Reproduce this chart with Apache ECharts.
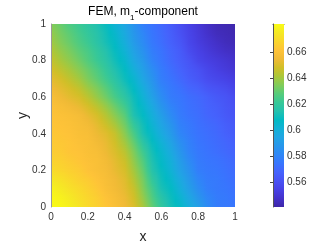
<!DOCTYPE html>
<html>
<head>
<meta charset="utf-8">
<script src="https://cdn.jsdelivr.net/npm/echarts@6/dist/echarts.min.js"></script>
<style>html,body{margin:0;padding:0;background:#fff}#c{width:327px;height:245px}</style>
</head>
<body>
<div id="c"></div>
<script>
// grid node coordinates (data x and y)
const xValues = [0, 0.05, 0.1, 0.15, 0.2, 0.25, 0.3, 0.35, 0.4, 0.45, 0.5, 0.55, 0.6, 0.65, 0.7, 0.75, 0.8, 0.85, 0.9, 0.95, 1];
const yValues = [0, 0.05, 0.1, 0.15, 0.2, 0.25, 0.3, 0.35, 0.4, 0.45, 0.5, 0.55, 0.6, 0.65, 0.7, 0.75, 0.8, 0.85, 0.9, 0.95, 1];

// m1 values at the nodes, one row per y (left to right along x)
const m1_y000 = [0.681,0.680,0.677,0.673,0.669,0.666,0.662,0.659,0.655,0.650,0.641,0.630,0.620,0.612,0.607,0.599,0.592,0.583,0.577,0.576,0.575];
const m1_y005 = [0.680,0.678,0.675,0.671,0.668,0.665,0.661,0.658,0.654,0.648,0.638,0.627,0.617,0.610,0.604,0.596,0.588,0.581,0.577,0.576,0.574];
const m1_y010 = [0.678,0.675,0.672,0.669,0.666,0.663,0.659,0.656,0.652,0.646,0.635,0.624,0.613,0.608,0.600,0.592,0.584,0.578,0.576,0.575,0.573];
const m1_y015 = [0.674,0.672,0.669,0.666,0.664,0.661,0.658,0.655,0.651,0.643,0.633,0.620,0.611,0.605,0.597,0.589,0.581,0.577,0.576,0.574,0.572];
const m1_y020 = [0.670,0.668,0.666,0.664,0.661,0.659,0.657,0.653,0.649,0.640,0.630,0.616,0.609,0.602,0.593,0.586,0.578,0.576,0.575,0.573,0.571];
const m1_y025 = [0.667,0.666,0.664,0.662,0.660,0.659,0.656,0.652,0.647,0.637,0.627,0.614,0.607,0.600,0.591,0.583,0.577,0.575,0.574,0.572,0.570];
const m1_y030 = [0.665,0.664,0.662,0.661,0.659,0.658,0.654,0.650,0.644,0.634,0.623,0.612,0.605,0.597,0.588,0.580,0.576,0.574,0.572,0.570,0.568];
const m1_y035 = [0.664,0.663,0.662,0.660,0.659,0.656,0.653,0.648,0.640,0.630,0.618,0.609,0.602,0.594,0.585,0.579,0.575,0.573,0.571,0.569,0.567];
const m1_y040 = [0.663,0.662,0.661,0.659,0.658,0.654,0.651,0.646,0.636,0.625,0.613,0.606,0.598,0.590,0.581,0.577,0.574,0.572,0.570,0.567,0.565];
const m1_y045 = [0.662,0.661,0.660,0.658,0.656,0.652,0.647,0.641,0.632,0.620,0.611,0.603,0.595,0.587,0.579,0.576,0.573,0.571,0.569,0.566,0.564];
const m1_y050 = [0.661,0.660,0.659,0.657,0.653,0.649,0.643,0.636,0.628,0.614,0.608,0.600,0.592,0.583,0.577,0.574,0.572,0.569,0.567,0.564,0.562];
const m1_y055 = [0.660,0.658,0.656,0.653,0.649,0.644,0.638,0.631,0.623,0.612,0.605,0.597,0.588,0.580,0.576,0.573,0.571,0.568,0.566,0.563,0.561];
const m1_y060 = [0.658,0.655,0.652,0.649,0.644,0.638,0.632,0.625,0.618,0.610,0.602,0.593,0.584,0.577,0.575,0.572,0.570,0.567,0.564,0.562,0.559];
const m1_y065 = [0.655,0.652,0.649,0.645,0.639,0.634,0.628,0.621,0.614,0.607,0.599,0.590,0.581,0.576,0.573,0.569,0.567,0.563,0.561,0.559,0.556];
const m1_y070 = [0.652,0.649,0.645,0.640,0.634,0.629,0.623,0.617,0.610,0.604,0.595,0.587,0.578,0.574,0.570,0.566,0.563,0.559,0.557,0.555,0.553];
const m1_y075 = [0.649,0.645,0.641,0.636,0.631,0.626,0.620,0.614,0.608,0.600,0.592,0.584,0.577,0.572,0.568,0.564,0.561,0.557,0.554,0.552,0.550];
const m1_y080 = [0.646,0.641,0.637,0.632,0.627,0.622,0.617,0.611,0.605,0.596,0.589,0.580,0.575,0.570,0.566,0.562,0.557,0.554,0.552,0.550,0.548];
const m1_y085 = [0.643,0.638,0.634,0.629,0.625,0.620,0.615,0.609,0.602,0.593,0.586,0.578,0.574,0.569,0.565,0.559,0.555,0.552,0.549,0.547,0.546];
const m1_y090 = [0.640,0.635,0.631,0.626,0.622,0.617,0.612,0.607,0.599,0.590,0.583,0.576,0.572,0.567,0.563,0.557,0.553,0.550,0.547,0.545,0.544];
const m1_y095 = [0.638,0.633,0.629,0.624,0.620,0.616,0.611,0.605,0.597,0.588,0.581,0.575,0.571,0.566,0.561,0.556,0.552,0.548,0.545,0.544,0.543];
const m1_y100 = [0.635,0.631,0.626,0.622,0.618,0.614,0.609,0.602,0.595,0.586,0.578,0.574,0.570,0.565,0.560,0.555,0.551,0.547,0.544,0.543,0.542];

const m1Rows = [m1_y000,m1_y005,m1_y010,m1_y015,m1_y020,m1_y025,m1_y030,m1_y035,m1_y040,m1_y045,m1_y050,
                m1_y055,m1_y060,m1_y065,m1_y070,m1_y075,m1_y080,m1_y085,m1_y090,m1_y095,m1_y100];

// colour limits and tick labels
const colorMin = 0.5412;
const colorMax = 0.6813;
const colorbarTicks = [0.56, 0.58, 0.6, 0.62, 0.64, 0.66];
const axisTicks = [0, 0.2, 0.4, 0.6, 0.8, 1];

// parula colormap
const parula = ['#3e26a8','#4432cb','#4741e5','#4852f4','#4563fd','#3875fe','#2e87f7','#2796eb','#20a5e3','#12b1d6','#02bac3',
                '#24c1ae','#37c897','#57cc7a','#81cc59','#abc739','#d1bf27','#f0ba36','#fec338','#fad62d','#f5e924','#f9fb15'];

const parulaRGB = parula.map(h => [parseInt(h.slice(1,3),16), parseInt(h.slice(3,5),16), parseInt(h.slice(5,7),16)]);
function colorOf(v) {
  let t = (v - colorMin) / (colorMax - colorMin);
  t = Math.max(0, Math.min(1, t));
  const p = t * (parulaRGB.length - 1);
  const i = Math.min(Math.floor(p), parulaRGB.length - 2);
  const f = p - i;
  const a = parulaRGB[i], b = parulaRGB[i + 1];
  return 'rgb(' + Math.round(a[0] + (b[0]-a[0])*f) + ',' + Math.round(a[1] + (b[1]-a[1])*f) + ',' + Math.round(a[2] + (b[2]-a[2])*f) + ')';
}

// one patch per pair of neighbouring nodes; corners carry the node values (interpolated shading)
const patches = [];
for (let j = 0; j < yValues.length - 1; j++) {
  for (let i = 0; i < xValues.length - 1; i++) {
    patches.push([xValues[i], yValues[j], xValues[i+1], yValues[j+1],
                  m1Rows[j][i], m1Rows[j][i+1], m1Rows[j+1][i], m1Rows[j+1][i+1]]);
  }
}

const chart = echarts.init(document.getElementById('c'), null, {renderer: 'canvas'});
const font = 'Liberation Sans, Arial, Helvetica, sans-serif';
const grey = '#262626';

function renderPatch(params, api) {
  const x0 = api.value(0), y0 = api.value(1), x1 = api.value(2), y1 = api.value(3);
  const v00 = api.value(4), v10 = api.value(5), v01 = api.value(6), v11 = api.value(7);
  const tl = api.coord([x0, y1]);
  const br = api.coord([x1, y0]);
  const h = br[1] - tl[1];
  const px0 = Math.round(tl[0]), px1 = Math.round(br[0]);
  const py0 = Math.round(tl[1]), py1 = Math.round(br[1]);
  const children = [];
  for (let py = py0; py < py1; py++) {
    const t = Math.max(0, Math.min(1, (py + 0.5 - tl[1]) / h));   // 0 at top (y1), 1 at bottom (y0)
    const left = v01 + (v00 - v01) * t;
    const right = v11 + (v10 - v11) * t;
    const mid = (left + right) / 2;
    children.push({
      type: 'rect',
      shape: {x: px0, y: py, width: px1 - px0, height: 1},
      style: {fill: new echarts.graphic.LinearGradient(0, 0, 1, 0, [
        {offset: 0, color: colorOf(left)},
        {offset: 0.5, color: colorOf(mid)},
        {offset: 1, color: colorOf(right)}
      ])}
    });
  }
  return {type: 'group', children: children};
}

chart.setOption({
  animation: false,
  backgroundColor: '#fff',
  title: {
    text: '{a|FEM, m}{s|1}{a|-component}',
    left: 143, top: 6, padding: 0, textAlign: 'center',
    textStyle: {
      fontFamily: font, fontWeight: 'normal', color: '#000', fontSize: 12,
      rich: {
        a: {fontFamily: font, fontSize: 12, color: '#000', verticalAlign: 'top', lineHeight: 14},
        s: {fontFamily: font, fontSize: 8, color: '#000', verticalAlign: 'top', lineHeight: 8, padding: [8, 0, 0, 0]}
      }
    }
  },
  grid: [
    {left: 51, top: 24, width: 184, height: 183, outerBoundsMode: 'none', containLabel: false},
    {left: 273, top: 24, width: 11, height: 183, outerBoundsMode: 'none', containLabel: false}
  ],
  xAxis: [
    {
      type: 'value', gridIndex: 0, min: 0, max: 1, interval: 0.2,
      name: 'x', nameLocation: 'middle', nameGap: 23, nameMoveOverlap: false,
      nameTextStyle: {fontFamily: font, fontSize: 14, color: grey},
      axisLine: {show: false}, axisTick: {show: false}, splitLine: {show: false},
      axisLabel: {fontFamily: font, fontSize: 10, color: '#333', margin: 5,
                  customValues: axisTicks, formatter: v => String(+(+v).toFixed(2))}
    },
    {
      type: 'value', gridIndex: 1, min: 0, max: 1, position: 'top',
      axisLine: {show: true, lineStyle: {color: '#555', width: 1}},
      axisTick: {show: false}, axisLabel: {show: false}, splitLine: {show: false}
    }
  ],
  yAxis: [
    {
      type: 'value', gridIndex: 0, min: 0, max: 1, interval: 0.2, z: 5,
      name: 'y', nameLocation: 'middle', nameGap: 21, nameRotate: 90, nameMoveOverlap: false,
      nameTextStyle: {fontFamily: font, fontSize: 14, color: grey},
      axisLine: {show: true, lineStyle: {color: '#9a9a9a', width: 1}},
      axisTick: {show: false}, splitLine: {show: false},
      axisLabel: {fontFamily: font, fontSize: 10, color: '#333', margin: 5,
                  customValues: axisTicks, formatter: v => String(+(+v).toFixed(2))}
    },
    {
      type: 'value', gridIndex: 1, min: colorMin, max: colorMax, position: 'right', z: 5,
      axisLine: {show: true, lineStyle: {color: '#555', width: 1}},
      axisTick: {show: true, inside: true, length: 3, customValues: colorbarTicks, lineStyle: {color: '#444'}},
      splitLine: {show: false},
      axisLabel: {fontFamily: font, fontSize: 10, color: '#333', margin: 3,
                  customValues: colorbarTicks, formatter: v => String(+(+v).toFixed(2))}
    }
  ],
  series: [
    {
      type: 'custom', xAxisIndex: 0, yAxisIndex: 0, data: patches,
      encode: {x: [0, 2], y: [1, 3]},
      clip: true, silent: true,
      renderItem: renderPatch
    },
    {
      type: 'custom', xAxisIndex: 1, yAxisIndex: 1, data: [[0, colorMin, colorMax]],
      encode: {x: 0, y: [1, 2]}, silent: true,
      renderItem: function (params, api) {
        const p0 = api.coord([0, api.value(2)]);
        const p1 = api.coord([1, api.value(1)]);
        return {
          type: 'rect',
          shape: {x: p0[0], y: p0[1], width: p1[0] - p0[0], height: p1[1] - p0[1]},
          style: {fill: new echarts.graphic.LinearGradient(0, 1, 0, 0,
            parula.map((c, i) => ({offset: i / (parula.length - 1), color: c})))}
        };
      }
    }
  ]
});
</script>
</body>
</html>
